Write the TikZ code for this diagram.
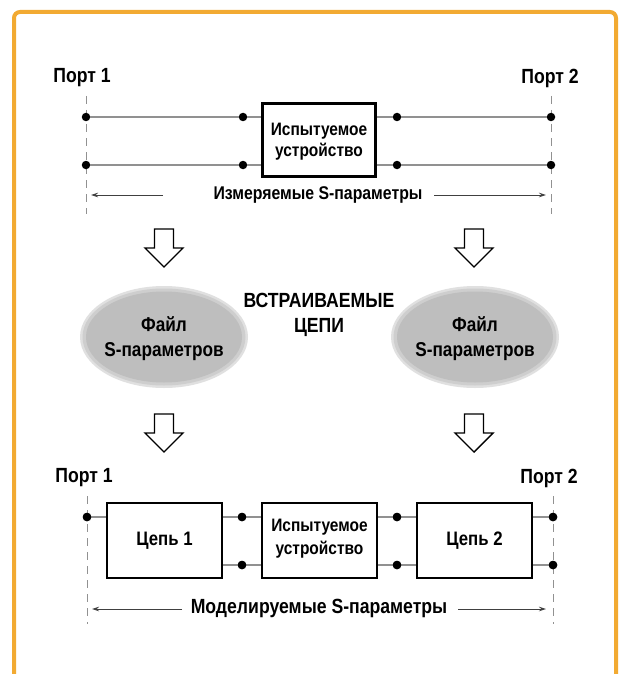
\documentclass[tikz,border=0pt]{standalone}
\usepackage{fontspec}
\setmainfont{Liberation Sans}
\newfontfamily\cond[FakeStretch=0.86]{Liberation Sans}
\usetikzlibrary{arrows.meta,shapes.geometric}
\definecolor{frameor}{RGB}{242,170,50}
\definecolor{wire}{RGB}{145,145,145}
\definecolor{ellin}{RGB}{190,190,190}
\definecolor{ellmid}{RGB}{206,206,206}
\definecolor{ellout}{RGB}{224,224,224}
\newcommand{\fs}[2]{\cond\bfseries\fontsize{#1}{#2}\selectfont}
\tikzset{
  lbl/.style={font=\fs{20.5}{22}, inner sep=0pt},
  boxtxt/.style={font=\fs{18}{21}, align=center, inner sep=0pt},
  blk/.style={draw=black, line width=2.6pt, fill=white},
  wireline/.style={draw=wire, line width=1.3pt},
  portdash/.style={draw=wire, line width=0.9pt, dash pattern=on 8pt off 6pt},
  dotc/.style={circle, fill=black, inner sep=0pt, minimum size=8.5pt},
  dimarrow/.style={draw=black!75, line width=0.8pt, -{Stealth[length=7pt,width=4.5pt]}},
  hollow/.style={draw=black, line width=1.4pt, fill=white, line join=miter},
  ellbase/.style={ellipse, inner sep=0pt},
}
\begin{document}
\begin{tikzpicture}[x=1pt,y=-1pt]
\useasboundingbox (0,0) rectangle (619,674);
\fill[white] (0,0) rectangle (619,674);
\draw[frameor, line width=4pt, rounded corners=6pt] (14,12) rectangle (616,720);

% ---------- top section ----------
\node[lbl] (p1a) at (82,78) {Порт 1};
\node[lbl] (p2a) at (550,78) {Порт 2};
\coordinate (dl1t) at (86,96);
\coordinate (dl1b) at (86,214);
\coordinate (dr1t) at (551,96);
\coordinate (dr1b) at (551,214);
\draw[portdash] (dl1t) -- (dl1b);
\draw[portdash] (dr1t) -- (dr1b);

\node[blk, minimum width=113pt, minimum height=73pt] (dut1) at (319,140) {};
\node[boxtxt] (dut1t) at (319,142) {Испытуемое\\устройство};

\node[dotc] (a1) at (86,117) {};
\node[dotc] (a2) at (243,117) {};
\node[dotc] (a3) at (397,117) {};
\node[dotc] (a4) at (551,117) {};
\node[dotc] (b1) at (86,165) {};
\node[dotc] (b2) at (243,165) {};
\node[dotc] (b3) at (397,165) {};
\node[dotc] (b4) at (551,165) {};
\draw[wireline] (a1) -- (a2) -- (dut1.west |- a2);
\draw[wireline] (dut1.east |- a3) -- (a3) -- (a4);
\draw[wireline] (b1) -- (b2) -- (dut1.west |- b2);
\draw[wireline] (dut1.east |- b3) -- (b3) -- (b4);

\node[lbl, font=\fs{18.4}{20}] (meas) at (318,195) {Измеряемые S-параметры};
\coordinate (m1) at (163,195);
\coordinate (m2) at (91,195);
\coordinate (m3) at (434,195);
\coordinate (m4) at (546,195);
\draw[dimarrow] (m1) -- (m2);
\draw[dimarrow] (m3) -- (m4);

% ---------- hollow arrows ----------
\foreach \cx/\cy in {164/229, 474/229, 164/414, 474/414}{
  \draw[hollow] (\cx-9.5,\cy) -- (\cx+9.5,\cy) -- (\cx+9.5,\cy+19) -- (\cx+19,\cy+19)
     -- (\cx,\cy+38) -- (\cx-19,\cy+19) -- (\cx-9.5,\cy+19) -- cycle;
}

% ---------- ellipses ----------
\node[ellbase, fill=ellout, minimum width=168pt, minimum height=102pt] (e1o) at (164,337) {};
\node[ellbase, fill=ellmid, minimum width=163pt, minimum height=97pt] (e1m) at (164,337) {};
\node[ellbase, fill=ellin, minimum width=156pt, minimum height=91pt] (e1) at (164,337) {};
\node[boxtxt, font=\fs{20}{25}] (e1t) at (164,339) {Файл\\S-параметров};
\node[ellbase, fill=ellout, minimum width=168pt, minimum height=102pt] (e2o) at (475,337) {};
\node[ellbase, fill=ellmid, minimum width=163pt, minimum height=97pt] (e2m) at (475,337) {};
\node[ellbase, fill=ellin, minimum width=156pt, minimum height=91pt] (e2) at (475,337) {};
\node[boxtxt, font=\fs{20}{25}] (e2t) at (475,339) {Файл\\S-параметров};
\node[boxtxt, font=\fs{20.5}{25}] (emb) at (319,315) {ВСТРАИВАЕМЫЕ\\ЦЕПИ};

% ---------- bottom section ----------
\node[lbl] (p1b) at (84,478) {Порт 1};
\node[lbl] (p2b) at (549,478) {Порт 2};
\coordinate (dl2t) at (87,496);
\coordinate (dl2b) at (87,624);
\coordinate (dr2t) at (553,496);
\coordinate (dr2b) at (553,624);
\draw[portdash] (dl2t) -- (dl2b);
\draw[portdash] (dr2t) -- (dr2b);

\node[blk, minimum width=115pt, minimum height=75pt] (c1) at (164.5,540.5) {};
\node[blk, minimum width=115pt, minimum height=75pt] (dut2) at (319.5,540.5) {};
\node[blk, minimum width=115pt, minimum height=75pt] (c2) at (474.5,540.5) {};
\node[boxtxt, font=\fs{19.5}{20}] (c1t) at (164.5,541) {Цепь 1};
\node[boxtxt, font=\fs{18}{23}] (dut2t) at (319.5,539) {Испытуемое\\устройство};
\node[boxtxt, font=\fs{19.5}{20}] (c2t) at (474.5,541) {Цепь 2};

\node[dotc] (g1) at (87,517) {};
\node[dotc] (g2) at (242,517) {};
\node[dotc] (g3) at (397,517) {};
\node[dotc] (g4) at (553,517) {};
\node[dotc] (h2) at (242,565) {};
\node[dotc] (h3) at (397,565) {};
\node[dotc] (h4) at (553,565) {};
\draw[wireline] (g1) -- (c1.west |- g1);
\draw[wireline] (c1.east |- g2) -- (dut2.west |- g2);
\draw[wireline] (dut2.east |- g3) -- (c2.west |- g3);
\draw[wireline] (c2.east |- g4) -- (g4);
\draw[wireline] (c1.east |- h2) -- (dut2.west |- h2);
\draw[wireline] (dut2.east |- h3) -- (c2.west |- h3);
\draw[wireline] (c2.east |- h4) -- (h4);
\node[dotc] at (g1) {};
\node[dotc] at (g2) {};
\node[dotc] at (g3) {};
\node[dotc] at (g4) {};
\node[dotc] at (h2) {};
\node[dotc] at (h3) {};
\node[dotc] at (h4) {};

\node[lbl, font=\fs{20.5}{22}] (model) at (319,608) {Моделируемые S-параметры};
\coordinate (n1) at (182,609);
\coordinate (n2) at (92,609);
\coordinate (n3) at (458,609);
\coordinate (n4) at (546,609);
\draw[dimarrow] (n1) -- (n2);
\draw[dimarrow] (n3) -- (n4);
\end{tikzpicture}
\end{document}
